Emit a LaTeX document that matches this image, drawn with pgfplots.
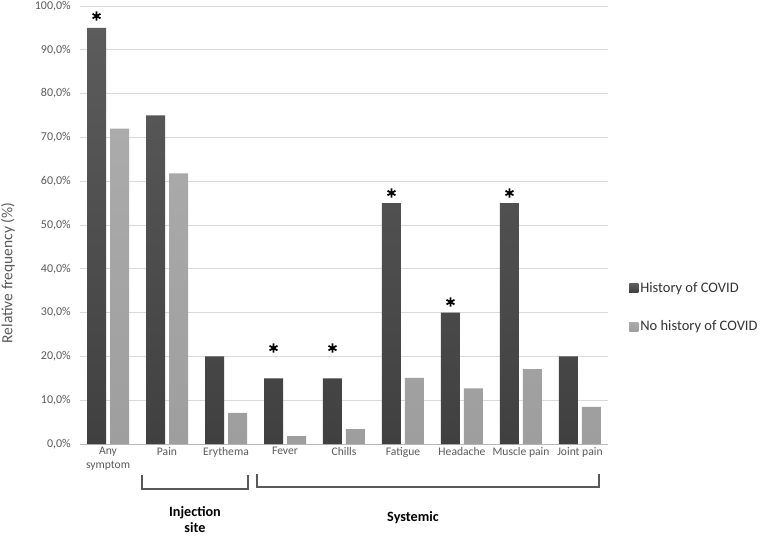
\documentclass[border=0pt]{standalone}
\usepackage{fontspec}
\setmainfont{Carlito}
\usepackage{pgfplots}
\pgfplotsset{compat=1.18}

\definecolor{barDarkTop}{HTML}{5C5C5C}
\definecolor{barDarkBot}{HTML}{404040}
\definecolor{barLightTop}{HTML}{ABABAB}
\definecolor{barLightBot}{HTML}{9E9E9E}
\definecolor{txtgray}{HTML}{595959}

\begin{document}
\begin{tikzpicture}
\useasboundingbox (-80bp,-93bp) rectangle (680bp,444bp);
\begin{axis}[
    at={(0,0)}, anchor=south west,
    scale only axis, width=528bp, height=438bp,
    xmin=-0.475, xmax=8.475, ymin=0, ymax=100,
    xtick={0,...,8},
    xticklabels={{Any\\symptom},Pain,Erythema,Fever,Chills,Fatigue,Headache,Muscle pain,Joint pain},
    xticklabel style={align=center, text=txtgray,
        font=\fontsize{11.6bp}{14bp}\selectfont},
    ytick={0,10,...,100},
    yticklabel={\pgfmathprintnumber[fixed,fixed zerofill,precision=1,use comma]{\tick}\%},
    /pgf/number format/assume math mode=true,
    yticklabel style={text=txtgray, xshift=-8bp, inner sep=1bp,
        font=\fontsize{12bp}{14bp}\selectfont},
    axis line style={draw=none}, tick style={draw=none},
    ymajorgrids, grid style={draw=black!15, line width=0.8bp},
    extra y ticks={0}, extra y tick labels={},
    extra y tick style={grid style={draw=black!28, line width=1bp}},
    clip=false,
    legend cell align=left,
    legend style={at={(rel axis cs:1.04,0.374)}, anchor=north west,
        draw=none, fill=none, inner sep=0pt, row sep=23bp,
        font=\fontsize{14.5bp}{17bp}\selectfont, text=black!80,
        nodes={inner sep=2bp}},
]
\addplot[ybar, bar width=19bp, bar shift=-11.5bp, draw=none,
    top color=barDarkTop, bottom color=barDarkBot,
    legend image code/.code={\fill[barDarkBot] (0bp,-4.5bp) rectangle (9bp,4.5bp);}]
  coordinates {(0,95) (1,75) (2,20) (3,15) (4,15) (5,55) (6,30) (7,55) (8,20)};
\addlegendentry{History of COVID}
\addplot[ybar, bar width=19bp, bar shift=11.5bp, draw=none,
    top color=barLightTop, bottom color=barLightBot,
    legend image code/.code={\fill[barLightBot] (0bp,-4.5bp) rectangle (9bp,4.5bp);}]
  coordinates {(0,72) (1,61.8) (2,7.1) (3,1.8) (4,3.4) (5,15.1) (6,12.7) (7,17.1) (8,8.5)};
\addlegendentry{No history of COVID}
% significance asterisks above the dark bars
\addplot[only marks, mark=asterisk, mark size=4.6bp, line width=1.7bp, black, forget plot]
  coordinates {(-0.195,97.7) (2.805,21.9) (3.805,21.9) (4.805,57.3) (5.805,32.4) (6.805,57.3)};
\end{axis}

% group brackets
\draw[txtgray, line width=1.5bp] (62bp,-31bp) -- (62bp,-45bp) -- (168bp,-45bp) -- (168bp,-31bp);
\draw[txtgray, line width=1.5bp] (177bp,-30bp) -- (177bp,-43bp) -- (519bp,-43bp) -- (519bp,-30bp);
\node[align=center, inner sep=0pt, font=\fontsize{14.2bp}{16bp}\selectfont\bfseries] at (115bp,-76bp) {Injection\\site};
\node[font=\fontsize{14.2bp}{17bp}\selectfont\bfseries] at (333bp,-74bp) {Systemic};
\node[rotate=90, text=txtgray, font=\fontsize{15.5bp}{18bp}\selectfont] at (-72bp,171bp) {Relative frequency (\%)};
\end{tikzpicture}
\end{document}
